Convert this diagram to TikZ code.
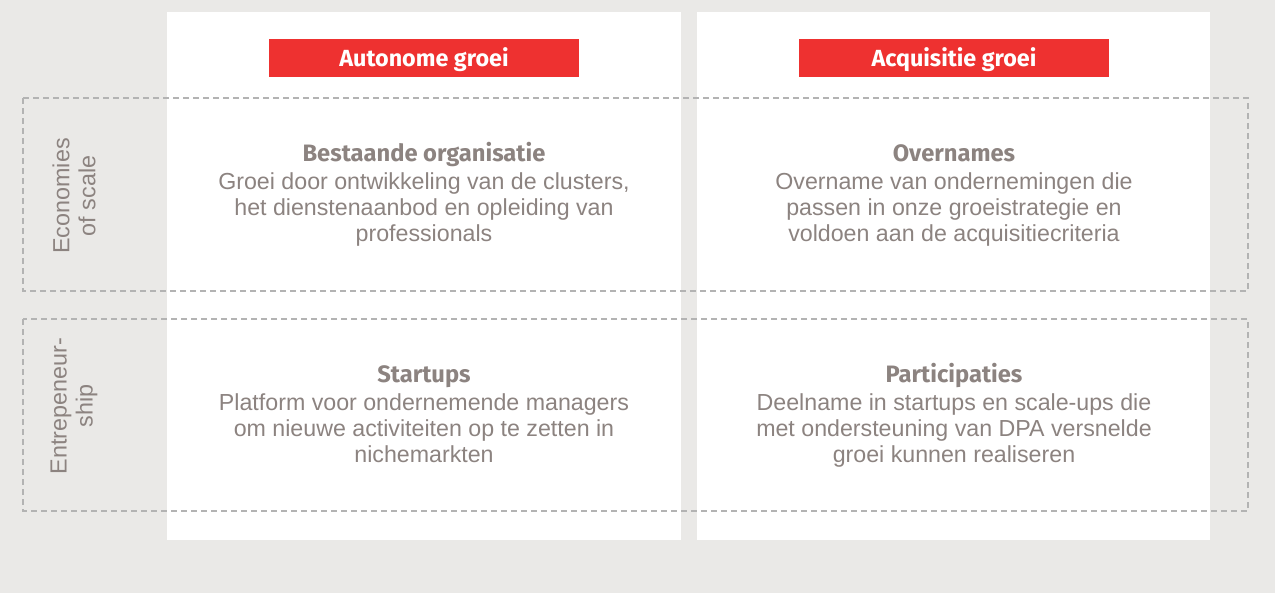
\documentclass[tikz,border=0pt]{standalone}
\usepackage{fontspec}
\setmainfont{Liberation Sans}
\newfontfamily\kopfont{Fira Sans}
\begin{document}
\begin{tikzpicture}[x=0.75pt,y=-0.75pt]
  \definecolor{achtergrond}{HTML}{EAE9E7}
  \definecolor{dparood}{HTML}{EE3130}
  \definecolor{tekst}{HTML}{8C8380}
  \definecolor{streep}{HTML}{B3B3B3}
  \tikzset{
    kop/.style={fill=dparood,text=white,minimum width=232.5pt,minimum height=28.5pt,inner sep=0pt,text height=12pt,text depth=0pt,font=\kopfont\bfseries\fontsize{17.5}{20}\selectfont},
    titel/.style={text=tekst,anchor=base,inner sep=0pt,font=\kopfont\bfseries\fontsize{17.8}{20}\selectfont},
    uitleg/.style={text=tekst,align=center,anchor=north,inner sep=0pt,font=\fontsize{17.4}{19.5}\selectfont},
    zijlabel/.style={text=tekst,align=center,rotate=90,inner sep=0pt,font=\fontsize{17.5}{19.5}\selectfont},
    kader/.style={streep,line width=1.5pt,dash pattern=on 4.5pt off 3pt}
  }
  \fill [achtergrond] (0,0) rectangle (1275,593);
  \useasboundingbox (0,0) rectangle (1275,593);
  % kolommen
  \fill [white] (167,12) rectangle (681,540);
  \fill [white] (697,12) rectangle (1210,540);
  \node [kop] (autonoom) at (424,58) {Autonome groei};
  \node [kop] (acquisitie) at (954,58) {Acquisitie groei};
  % rijen
  \draw [kader] (23,98) rectangle (1248,291);
  \draw [kader] (23,319) rectangle (1248,511);
  \node [zijlabel] (schaal) at (74,196) {Economies\\of scale};
  \node [zijlabel] (ondernemen) at (74,406) {Entrepeneur-\\ship};
  % vakken
  \node [titel] (bestaand) at (424,161) {Bestaande organisatie};
  \node [uitleg] (bestaandtxt) at (424,172) {Groei door ontwikkeling van de clusters,\\het dienstenaanbod en opleiding van\\professionals};
  \node [titel] (overname) at (954,161) {Overnames};
  \node [uitleg] (overnametxt) at (954,172) {Overname van ondernemingen die\\passen in onze groeistrategie en\\voldoen aan de acquisitiecriteria};
  \node [titel] (startup) at (424,382) {Startups};
  \node [uitleg] (startuptxt) at (424,393) {Platform voor ondernemende managers\\om nieuwe activiteiten op te zetten in\\nichemarkten};
  \node [titel] (deelname) at (954,382) {Participaties};
  \node [uitleg] (deelnametxt) at (954,393) {Deelname in startups en scale-ups die\\met ondersteuning van DPA versnelde\\groei kunnen realiseren};
\end{tikzpicture}
\end{document}
